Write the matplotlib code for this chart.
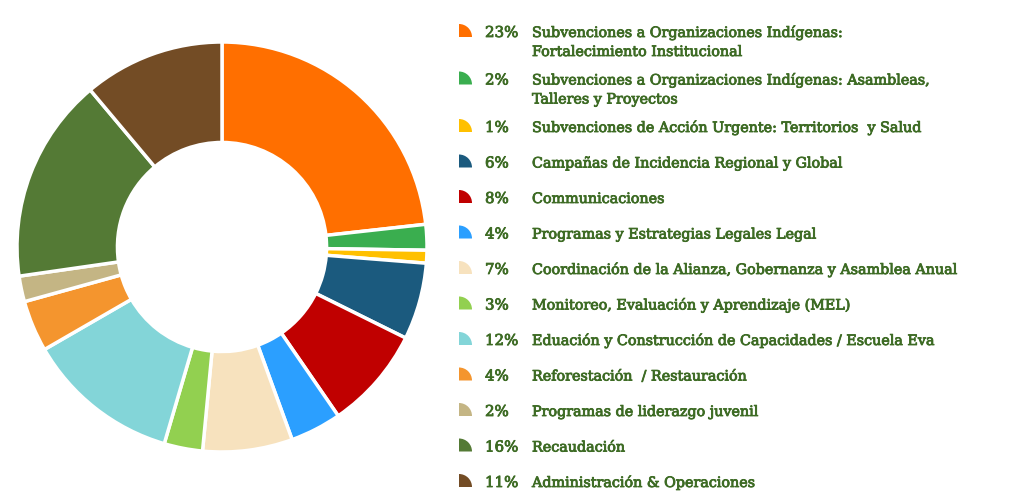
import matplotlib
matplotlib.use("Agg")
import matplotlib.pyplot as plt
import matplotlib.patheffects as pe
from matplotlib.patches import Wedge

# data
percents = [23, 2, 1, 6, 8, 4, 7, 3, 12, 4, 2, 16, 11]
labels = [
    "Subvenciones a Organizaciones Indígenas:\nFortalecimiento Institucional",
    "Subvenciones a Organizaciones Indígenas: Asambleas,\nTalleres y Proyectos",
    "Subvenciones de Acción Urgente: Territorios  y Salud",
    "Campañas de Incidencia Regional y Global",
    "Communicaciones",
    "Programas y Estrategias Legales Legal",
    "Coordinación de la Alianza, Gobernanza y Asamblea Anual",
    "Monitoreo, Evaluación y Aprendizaje (MEL)",
    "Eduación y Construcción de Capacidades / Escuela Eva",
    "Reforestación  / Restauración",
    "Programas de liderazgo juvenil",
    "Recaudación",
    "Administración & Operaciones",
]
colors = ["#ff6f00", "#3aae4f", "#ffc000", "#1b5a7e", "#c00000", "#2b9fff",
          "#f7e2be", "#92d050", "#83d5d8", "#f4952e", "#c4b584", "#547a35",
          "#734c25"]

text_color = "#3d6b24"
font = "DejaVu Serif"
fs = 10.3
thick = [pe.withStroke(linewidth=0.6, foreground=text_color)]

W, H = 1024, 500
fig = plt.figure(figsize=(W / 100, H / 100), dpi=100)

# donut
cx, cy, r = 222, 247, 205
ax = fig.add_axes([(cx - r) / W, (H - cy - r) / H, 2 * r / W, 2 * r / H])
ax.pie(percents, colors=colors, startangle=90, counterclock=False, radius=1,
       wedgeprops=dict(width=0.49, edgecolor="white", linewidth=2.5,
                       joinstyle="round"))
ax.set_xlim(-1, 1)
ax.set_ylim(-1, 1)
ax.set_aspect("equal")
ax.axis("off")

# legend drawn by hand in pixel coordinates
lax = fig.add_axes([0, 0, 1, 1])
lax.set_xlim(0, W)
lax.set_ylim(0, H)
lax.axis("off")

y = 37
for pct, lab, col in zip(percents, labels, colors):
    lax.add_patch(Wedge((459, H - y), 13, 0, 90, facecolor=col, edgecolor="none"))
    lax.text(485, H - y, f"{pct}%", fontsize=fs + 0.5, family=font,
             color=text_color, va="baseline", ha="left", path_effects=thick)
    lines = lab.split("\n")
    for i, line in enumerate(lines):
        lax.text(532, H - y - 19 * i, line, fontsize=fs, family=font,
                 color=text_color, va="baseline", ha="left",
                 path_effects=thick)
    y += 35.5 + 12 * (len(lines) - 1)

fig.savefig("out.png", dpi=100)
